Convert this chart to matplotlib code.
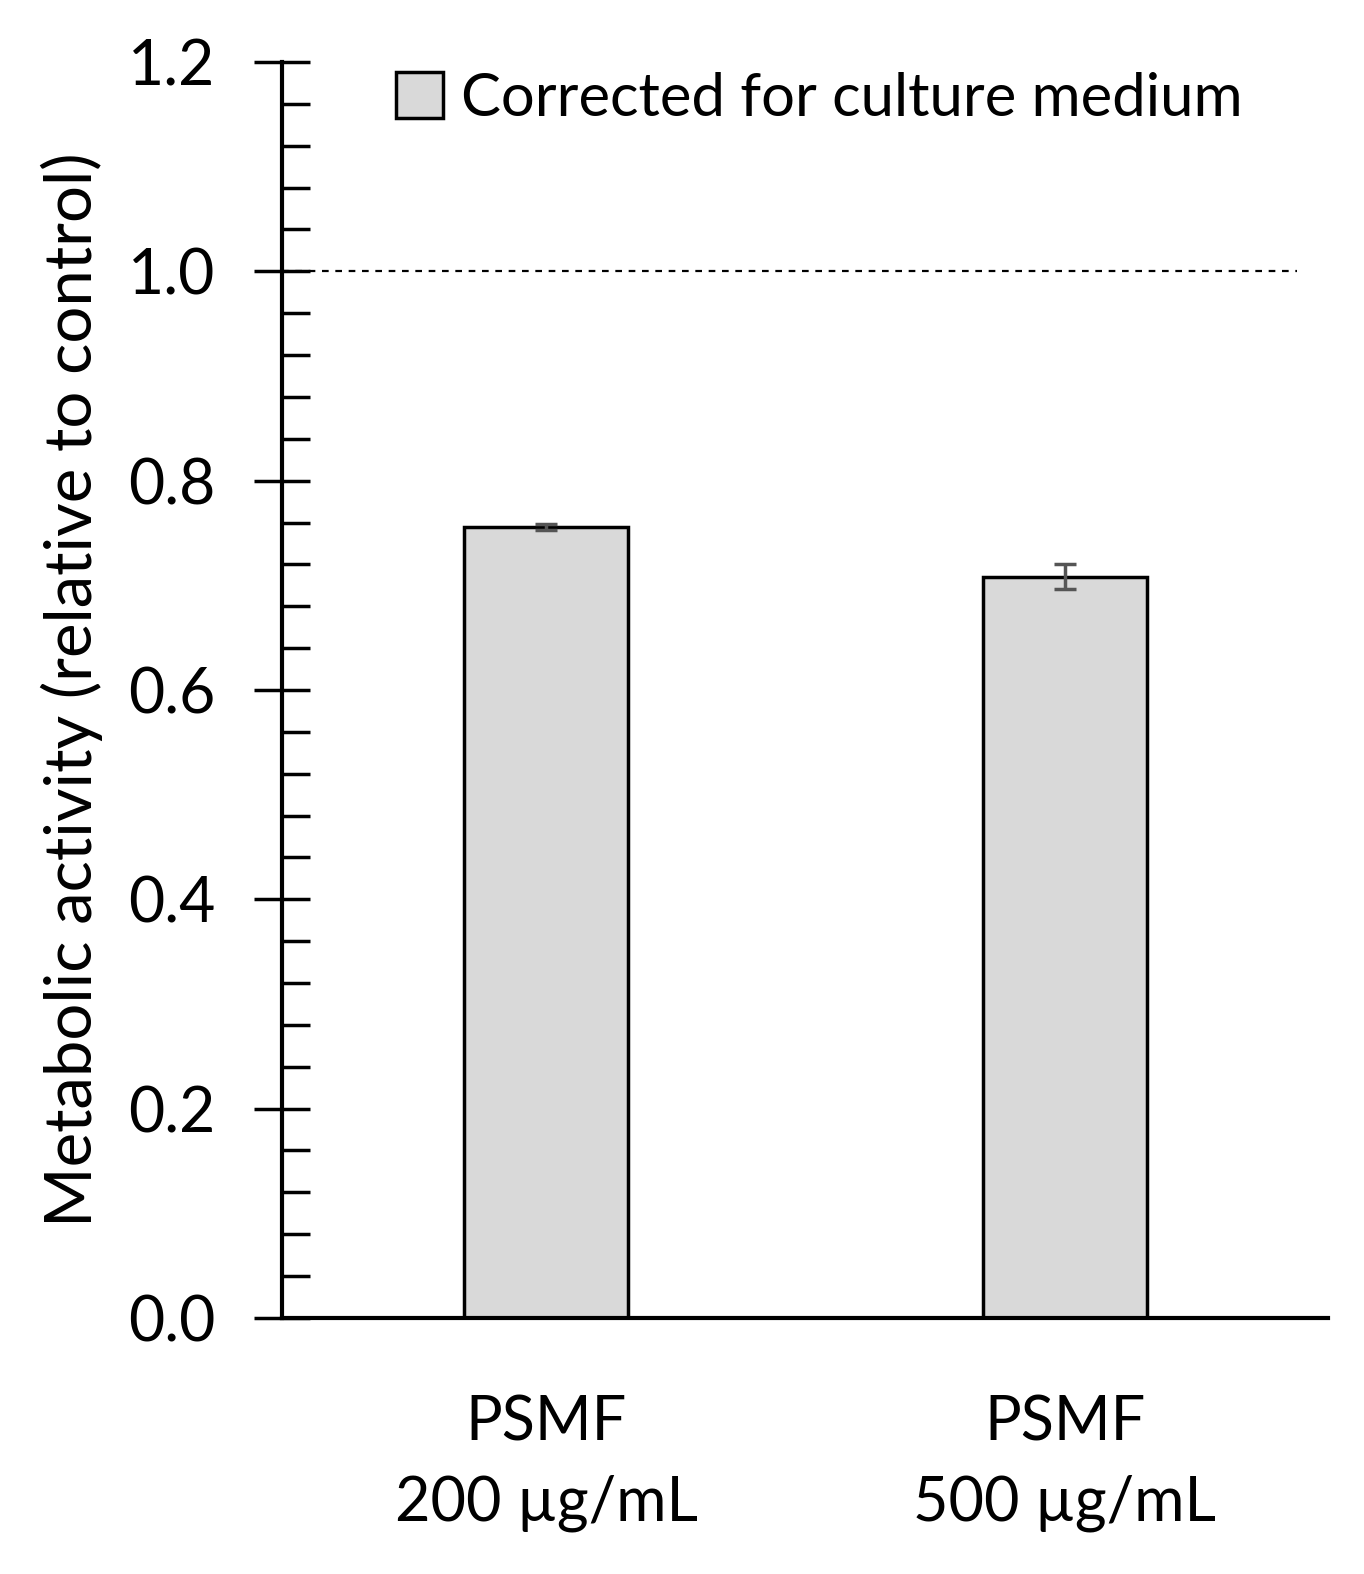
import matplotlib.pyplot as plt
from matplotlib.ticker import MultipleLocator
from matplotlib.patches import Patch

plt.rcParams['font.family'] = ['Lato', 'DejaVu Sans']

categories = ['PSMF\n200 µg/mL', 'PSMF\n500 µg/mL']
values = [0.756, 0.708]
errors = [0.003, 0.012]
legend_label = 'Corrected for culture medium'

fig = plt.figure(figsize=(13.64, 15.74), dpi=100)
ax = fig.add_axes([0.2067, 0.1627, 0.7669, 0.7979])

x = [0, 1]
ax.bar(x, values, width=0.316, color='#d9d9d9', edgecolor='black', linewidth=2.5, zorder=2)
ax.errorbar(x, values, yerr=errors, fmt='none', ecolor='#555555', elinewidth=2.5,
            capsize=8, capthick=2.5, zorder=3)
ax.plot([-0.509, 1.447], [1.0, 1.0], linestyle=(0, (3, 3)), color='black', linewidth=1.6, zorder=1)

ax.set_xlim(-0.509, 1.507)
ax.set_ylim(0, 1.2)
ax.set_xticks(x)
ax.set_xticklabels(categories, fontsize=44, linespacing=1.5)
ax.tick_params(axis='x', length=0, pad=55)
ax.yaxis.set_major_locator(MultipleLocator(0.2))
ax.yaxis.set_minor_locator(MultipleLocator(0.04))
ax.yaxis.set_major_formatter(plt.FuncFormatter(lambda v, p: f'{v:.1f}'))
ax.tick_params(axis='y', which='major', direction='inout', length=40, width=2.5, labelsize=45, pad=28)
ax.tick_params(axis='y', which='minor', direction='in', length=20, width=2.5)
ax.set_ylabel('Metabolic activity (relative to control)', fontsize=47, labelpad=18)

for s in ['top', 'right']:
    ax.spines[s].set_visible(False)
for s in ['left', 'bottom']:
    ax.spines[s].set_linewidth(3)

ax.legend(handles=[Patch(facecolor='#d9d9d9', edgecolor='black', linewidth=2.5, label=legend_label)],
          loc='upper right', bbox_to_anchor=(0.97, 1.035), frameon=False, fontsize=43,
          handlelength=0.8, handleheight=0.8, handletextpad=0.3)

fig.savefig('out.png', dpi=100)
